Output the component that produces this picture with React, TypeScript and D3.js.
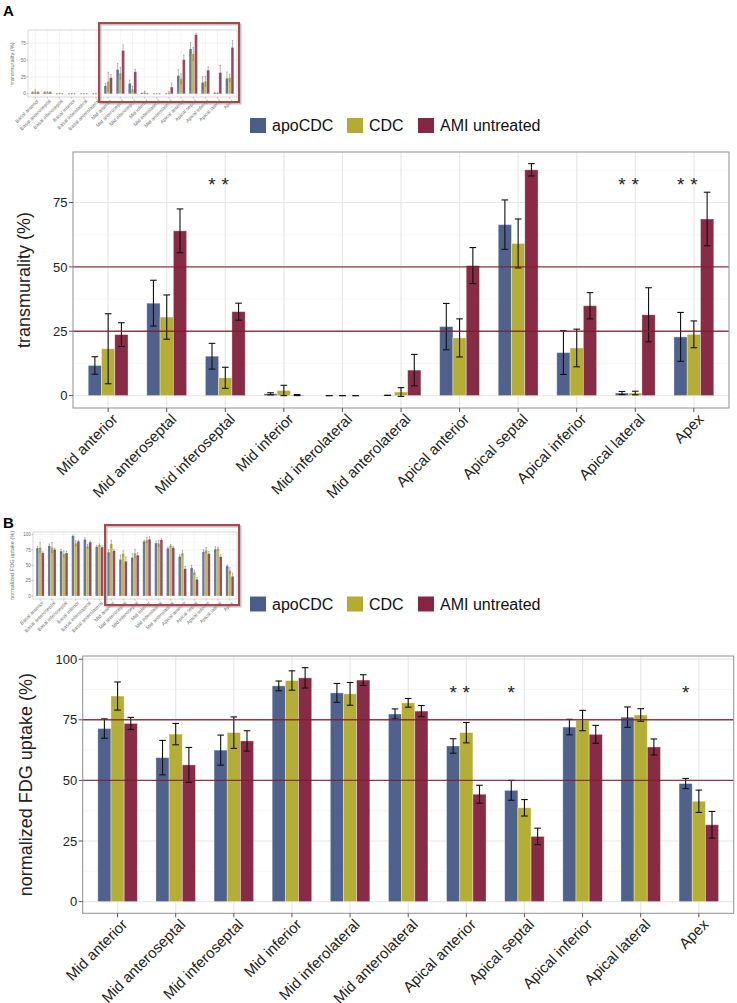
import React from "react";
import * as d3 from "d3";

// 17-segment model, the main charts show the last 11
const segments = [
  "Basal anterior", "Basal anteroseptal", "Basal inferoseptal", "Basal inferior",
  "Basal inferolateral", "Basal anterolateral", "Mid anterior", "Mid anteroseptal",
  "Mid inferoseptal", "Mid inferior", "Mid inferolateral", "Mid anterolateral",
  "Apical anterior", "Apical septal", "Apical inferior", "Apical lateral", "Apex",
];
const groups = ["apoCDC", "CDC", "AMI untreated"];
const colors = ["#4b5e8b", "#b3ac30", "#852742"];

// transmurality (%) mean / error
const transApo = [2, 2, 0, 0, 0, 0, 11.7, 35.9, 15.3, 0.7, 0, 0.1, 26.8, 66.4, 16.7, 1.0, 22.8];
const transApoErr = [1, 1, 0, 0, 0, 0, 3.4, 8.9, 5.0, 0.4, 0, 0, 9.0, 9.6, 8.5, 0.6, 9.5];
const transCdc = [3, 2, 0.5, 0, 0, 0, 18.2, 30.5, 6.9, 2.0, 0, 1.4, 22.4, 59.1, 18.5, 1.0, 23.8];
const transCdcErr = [3, 1, 0.5, 0, 0, 0, 13.6, 8.6, 4.1, 2.0, 0, 1.7, 7.4, 9.5, 7.3, 0.7, 5.2];
const transAmi = [2, 2, 0, 0, 0, 0, 23.7, 64.0, 32.6, 0.2, 0, 9.9, 50.5, 87.7, 34.9, 31.4, 68.6];
const transAmiErr = [1, 1, 0, 0, 0, 0, 4.6, 8.5, 3.3, 0.2, 0, 6.1, 7.0, 2.4, 5.1, 10.5, 10.4];

// normalized FDG uptake (%) mean / error
const fdgApo = [78, 81.6, 73, 97.8, 92, 80, 71.4, 59.4, 62.5, 89.0, 86.1, 77.4, 64.2, 45.9, 72.0, 76.1, 48.7];
const fdgApoErr = [3, 3, 3, 1.5, 3, 2, 4.0, 7.1, 6.2, 2.0, 3.9, 2.1, 3.0, 4.1, 3.2, 4.2, 2.1];
const fdgCdc = [79, 79, 68.6, 86, 81, 83, 84.8, 69.1, 69.7, 91.2, 85.7, 82.0, 69.7, 38.7, 74.7, 77.0, 41.4];
const fdgCdcErr = [8, 8, 5, 4, 3, 2, 5.8, 4.4, 6.5, 4.0, 4.7, 1.8, 4.2, 3.4, 4.2, 2.6, 4.6];
const fdgAmi = [70, 75.7, 70, 89, 87.6, 79.5, 73.5, 56.4, 66.3, 92.3, 91.4, 78.6, 44.3, 26.9, 69.0, 63.8, 31.7];
const fdgAmiErr = [2, 2, 3, 2, 2, 2, 2.5, 7.2, 4.2, 4.2, 2.2, 2.3, 3.7, 3.4, 3.7, 3.3, 5.5];

const yTicks = [0, 25, 50, 75, 100];
const transLines = [25, 50];
const fdgLines = [50, 75];

// significance stars: which segment, which group
const transStars = [
  ["Mid inferoseptal", 0], ["Mid inferoseptal", 1],
  ["Apical lateral", 0], ["Apical lateral", 1],
  ["Apex", 0], ["Apex", 1],
];
const fdgStars = [
  ["Apical anterior", 0], ["Apical anterior", 1],
  ["Apical septal", 0], ["Apex", 0],
];
const transStarLevel = 83.5;
const fdgStarLevel = 88.2;

const FONT = "'Liberation Sans', Arial, Helvetica, sans-serif";
const STAR = 19;

function BarPanel(p) {
  const k = p.k || 1;
  const x = d3.scalePoint().domain(p.cats).range([p.left, p.left + p.width]).padding(0.6);
  const gw = x.step() * 0.68;
  const xs = d3.scaleBand().domain(d3.range(p.means.length)).range([-gw / 2, gw / 2]);
  const bw = xs.bandwidth();

  const hi = d3.max(p.means.flatMap((m, s) => m.map((v, i) => v + p.errs[s][i])));
  const lo = Math.min(0, d3.min(p.means.flatMap((m, s) => m.map((v, i) => v - p.errs[s][i]))));
  const pad = (hi - lo) * 0.05;
  const y = d3.scaleLinear().domain([lo - pad, hi + pad]).range([p.top + p.height, p.top]);
  const [d0, d1] = y.domain();
  const major = yTicks.filter(t => t >= d0 && t <= d1);
  const minor = d3.range(12.5, 100, 25).filter(t => t >= d0 && t <= d1);
  const bottom = p.top + p.height;
  const right = p.left + p.width;

  return (
    <g>
      <rect x={p.left} y={p.top} width={p.width} height={p.height} fill="#fff" />
      {minor.map(t => (
        <line key={"n" + t} x1={p.left} x2={right} y1={y(t)} y2={y(t)} stroke="#f2f2f2" strokeWidth={0.6 * k} />
      ))}
      {major.map(t => (
        <line key={"m" + t} x1={p.left} x2={right} y1={y(t)} y2={y(t)} stroke="#e8e8e8" strokeWidth={1.2 * k} />
      ))}
      {p.cats.map(c => (
        <line key={"v" + c} x1={x(c)} x2={x(c)} y1={p.top} y2={bottom} stroke="#e8e8e8" strokeWidth={1.2 * k} />
      ))}
      {p.means.map((m, s) =>
        m.map((v, i) => (
          <rect key={"b" + s + i} x={x(p.cats[i]) + xs(s)} width={bw}
            y={y(Math.max(v, 0))} height={Math.abs(y(0) - y(v))}
            fill={colors[s]} fillOpacity={0.98} stroke="#fff" strokeOpacity={0.45} strokeWidth={0.8 * k} />
        ))
      )}
      {p.means.map((m, s) =>
        m.map((v, i) => {
          const cx = x(p.cats[i]) + xs(s) + bw / 2;
          const e = p.errs[s][i];
          const cw = bw * 0.25;
          return (
            <g key={"e" + s + i} stroke={p.errColor || "#111"} strokeWidth={1.1 * k}>
              <line x1={cx} x2={cx} y1={y(v - e)} y2={y(v + e)} />
              <line x1={cx - cw} x2={cx + cw} y1={y(v + e)} y2={y(v + e)} />
              <line x1={cx - cw} x2={cx + cw} y1={y(v - e)} y2={y(v - e)} />
            </g>
          );
        })
      )}
      {(p.refLines || []).map(r => (
        <line key={"r" + r} x1={p.left} x2={right} y1={y(r)} y2={y(r)} stroke="#7c1d2b" strokeOpacity={0.85} strokeWidth={1.4} />
      ))}
      {(p.stars || []).map(([c, s], j) => (
        <text key={"s" + j} x={x(c) + xs(s) + bw / 2} y={y(p.starLevel) + 0.57 * STAR}
          textAnchor="middle" fontSize={STAR} fontFamily={FONT} fill="#222">*</text>
      ))}
      <rect x={p.left} y={p.top} width={p.width} height={p.height} fill="none" stroke="#9a9a9a" strokeWidth={1.1 * k} />
      {major.map(t => (
        <g key={"t" + t}>
          <line x1={p.left - 4 * k} x2={p.left} y1={y(t)} y2={y(t)} stroke="#555" strokeWidth={k} />
          <text x={p.left - 5.5 * k} y={y(t)} dy="0.36em" textAnchor="end" fontSize={p.tickSize}
            fontFamily={FONT} fill={p.textColor || "#222"}>{t}</text>
        </g>
      ))}
      {p.cats.map(c => (
        <g key={"x" + c}>
          <line x1={x(c)} x2={x(c)} y1={bottom} y2={bottom + 4 * k} stroke="#555" strokeWidth={k} />
          <text transform={`translate(${x(c) + 3 * k},${bottom + 4.5 * k}) rotate(-45)`} dy="0.72em"
            textAnchor="end" fontSize={p.xSize} fontFamily={FONT} fill={p.textColor || "#222"}>{c}</text>
        </g>
      ))}
      <text transform={`translate(${p.titleX},${p.top + p.height / 2}) rotate(-90)`} textAnchor="middle"
        fontSize={p.titleSize} fontFamily={FONT} fill={p.textColor || "#222"}>{p.title}</text>
    </g>
  );
}

function Legend({ cy }) {
  const xs = [250, 347, 418];
  return (
    <g>
      {groups.map((g, i) => (
        <g key={g}>
          <rect x={xs[i]} y={cy - 7.5} width={16} height={15} fill={colors[i]} />
          <text x={xs[i] + 22} y={cy} dy="0.36em" fontSize={16} fontFamily={FONT} fill="#111">{g}</text>
        </g>
      ))}
    </g>
  );
}

function Thumb({ box, ...p }) {
  return (
    <g opacity={0.85}>
      <BarPanel {...p} k={0.4} tickSize={4.6} xSize={5} titleSize={5.6} textColor="#555" errColor="#444" />
      <rect x={box[0] + 1.5} y={box[1] + 1.5} width={box[2] - box[0]} height={box[3] - box[1]}
        fill="none" stroke="#888" strokeOpacity={0.6} strokeWidth={2} />
      <rect x={box[0]} y={box[1]} width={box[2] - box[0]} height={box[3] - box[1]}
        fill="none" stroke="#a1262f" strokeWidth={2} />
    </g>
  );
}

export default function App() {
  const main = segments.slice(6);
  const cut = (a) => a.slice(6);
  const transM = [transApo, transCdc, transAmi];
  const transE = [transApoErr, transCdcErr, transAmiErr];
  const fdgM = [fdgApo, fdgCdc, fdgAmi];
  const fdgE = [fdgApoErr, fdgCdcErr, fdgAmiErr];

  return (
    <svg width={737} height={1003} style={{ position: "absolute", left: 0, top: 0, background: "#fff" }}>
      <rect width={737} height={1003} fill="#fff" />
      <text x={3} y={16} fontSize={15} fontWeight="bold" fontFamily={FONT}>A</text>
      <Thumb box={[99, 23, 239, 102]} cats={segments} means={transM} errs={transE}
        left={28} top={30} width={209} height={67} title="transmurality (%)" titleX={14} />
      <Legend cy={125.5} />
      <BarPanel cats={main} means={transM.map(cut)} errs={transE.map(cut)}
        left={73} top={152} width={656} height={256} refLines={transLines}
        stars={transStars} starLevel={transStarLevel}
        tickSize={13} xSize={15} titleSize={18} titleX={30} title="transmurality (%)" />

      <text x={3} y={528} fontSize={15} fontWeight="bold" fontFamily={FONT}>B</text>
      <Thumb box={[105, 525, 239, 605]} cats={segments} means={fdgM} errs={fdgE}
        left={33} top={532} width={204} height={67} title="normalized FDG uptake (%)" titleX={14} />
      <Legend cy={604} />
      <BarPanel cats={main} means={fdgM.map(cut)} errs={fdgE.map(cut)}
        left={82.7} top={656} width={651} height={257.3} refLines={fdgLines}
        stars={fdgStars} starLevel={fdgStarLevel}
        tickSize={13} xSize={15} titleSize={18} titleX={32} title="normalized FDG uptake (%)" />
    </svg>
  );
}
